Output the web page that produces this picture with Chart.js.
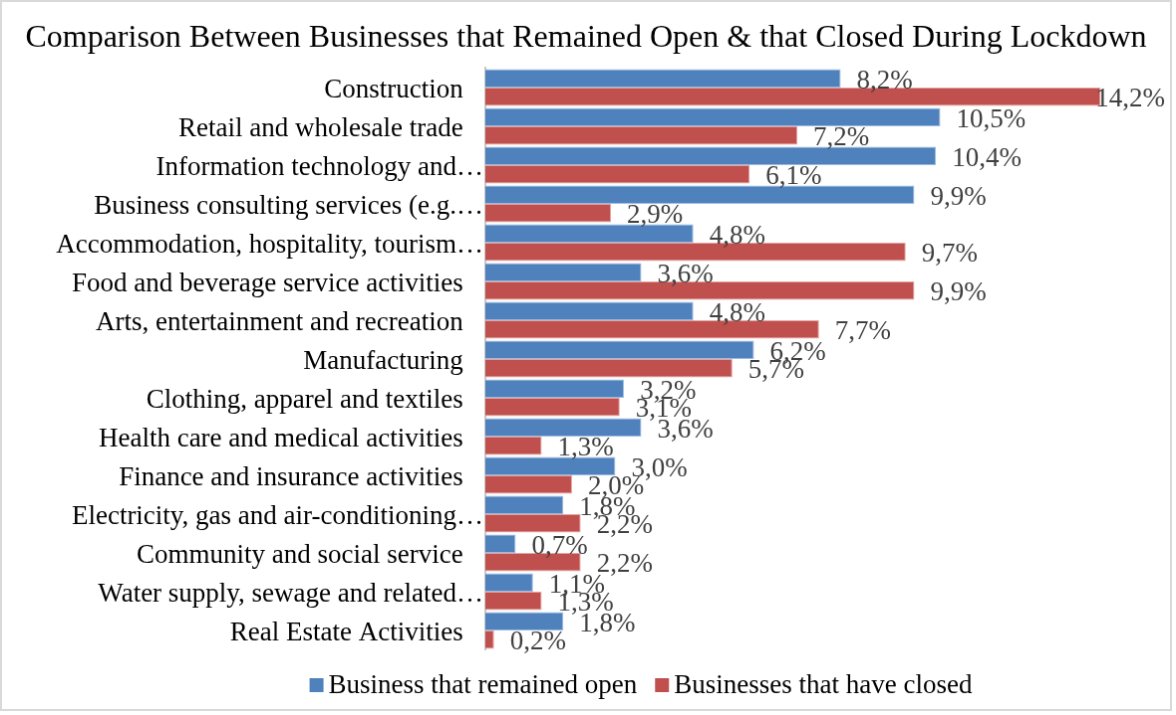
<!DOCTYPE html>
<html>
<head>
<meta charset="utf-8">
<script src="https://cdn.jsdelivr.net/npm/chart.js@4.4.0/dist/chart.umd.min.js"></script>
<style>
  body { margin: 0; background: #fff; }
  #chart { display: block; border: 2px solid #d9d9d9; }
</style>
</head>
<body>
<canvas id="chart" width="1172" height="711"></canvas>
<script>
const categories = [
    "Construction",
    "Retail and wholesale trade",
    "Information technology and…",
    "Business consulting services (e.g.…",
    "Accommodation, hospitality, tourism…",
    "Food and beverage service activities",
    "Arts, entertainment and recreation",
    "Manufacturing",
    "Clothing, apparel and textiles",
    "Health care and medical activities",
    "Finance and insurance activities",
    "Electricity, gas and air-conditioning…",
    "Community and social service",
    "Water supply, sewage and related…",
    "Real Estate Activities"
];
const remainedOpen = [8.2, 10.5, 10.4, 9.9, 4.8, 3.6, 4.8, 6.2, 3.2, 3.6, 3.0, 1.8, 0.7, 1.1, 1.8];
const haveClosed = [14.2, 7.2, 6.1, 2.9, 9.7, 9.9, 7.7, 5.7, 3.1, 1.3, 2.0, 2.2, 2.2, 1.3, 0.2];

const serif = '"Liberation Serif", "Times New Roman", serif';

// writes "8,2%" style labels just right of each bar end
const valueLabels = {
    id: 'valueLabels',
    afterDatasetsDraw(chart) {
        const ctx = chart.ctx;
        ctx.save();
        ctx.font = '27px ' + serif;
        ctx.fillStyle = '#404040';
        ctx.textAlign = 'left';
        ctx.textBaseline = 'middle';
        chart.data.datasets.forEach((ds, di) => {
            chart.getDatasetMeta(di).data.forEach((bar, i) => {
                const text = ds.data[i].toFixed(1).replace('.', ',') + '%';
                const w = ctx.measureText(text).width;
                const x = Math.min(bar.x + 16, chart.width - 5 - w);
                ctx.fillText(text, x, bar.y + 3);
            });
        });
        ctx.restore();
    }
};

// legend row under the bars, small square then the series name
const bottomLegend = {
    id: 'bottomLegend',
    afterDraw(chart) {
        const ctx = chart.ctx;
        const box = 14, gap = 5, between = 18;
        const cx = 641, cy = 687;
        ctx.save();
        ctx.font = '27px ' + serif;
        ctx.textBaseline = 'middle';
        ctx.textAlign = 'left';
        const items = chart.data.datasets.map(ds => ({
            text: ds.label,
            color: ds.backgroundColor,
            w: box + gap + ctx.measureText(ds.label).width
        }));
        const total = items.reduce((s, it) => s + it.w, 0) + between * (items.length - 1);
        let x = cx - total / 2;
        items.forEach(it => {
            ctx.fillStyle = it.color;
            ctx.fillRect(x, cy - box / 2, box, box);
            ctx.fillStyle = '#000';
            ctx.fillText(it.text, x + box + gap, cy + 1);
            x += it.w + between;
        });
        ctx.restore();
    }
};

new Chart(document.getElementById('chart'), {
    type: 'bar',
    data: {
        labels: categories,
        datasets: [
            {
                label: 'Business that remained open',
                data: remainedOpen,
                backgroundColor: '#4f81bd',
                borderColor: '#9dbbe0',
                borderWidth: 1,
                borderSkipped: 'left'
            },
            {
                label: 'Businesses that have closed',
                data: haveClosed,
                backgroundColor: '#c0504d',
                borderColor: '#e3a3a1',
                borderWidth: 1,
                borderSkipped: 'left'
            }
        ]
    },
    options: {
        indexAxis: 'y',
        responsive: false,
        animation: false,
        datasets: {
            bar: { categoryPercentage: 0.95, barPercentage: 1 }
        },
        layout: { padding: { left: 0, right: 0, top: 0, bottom: 59.5 } },
        scales: {
            x: { display: false, min: 0, max: 15.8 },
            y: {
                afterFit(scale) { scale.width = 485; },
                grid: { drawOnChartArea: false, drawTicks: false },
                border: { display: true, color: '#c8c8c8', width: 2 },
                ticks: {
                    padding: 2,
                    labelOffset: 3,
                    color: '#000',
                    font: { family: serif, size: 27 },
                    autoSkip: false,
                    callback(v, i) {
                        const name = categories[i];
                        return name.endsWith('…') ? name : name + '   ';
                    }
                }
            }
        },
        plugins: {
            title: {
                display: true,
                text: 'Comparison Between Businesses that Remained Open & that Closed During Lockdown',
                color: '#000',
                font: { family: serif, size: 32, weight: 'normal', lineHeight: 1.2 },
                padding: { top: 17, bottom: 11 }
            },
            legend: { display: false },
            tooltip: { enabled: false }
        }
    },
    plugins: [valueLabels, bottomLegend]
});
</script>
</body>
</html>
